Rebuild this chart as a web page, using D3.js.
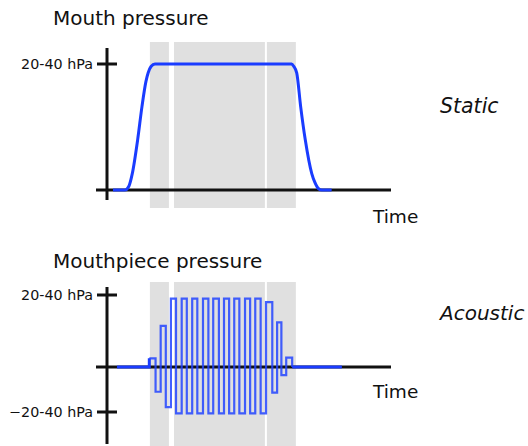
<!DOCTYPE html>
<html>
<head>
<meta charset="utf-8">
<script src="https://cdn.jsdelivr.net/npm/d3@7"></script>
<style>
  html, body { margin: 0; padding: 0; background: #fff; }
  svg { display: block; }
  text { font-family: "Comic Sans MS", "DejaVu Sans", sans-serif; fill: #111; }
</style>
</head>
<body>
<svg id="chart" width="528" height="446"></svg>
<script>
// --- data (time in arbitrary units, pressure relative to the tick value) ---
const bands = [[15.1, 21.8], [23.6, 55.6], [56.3, 66.5]];

// static mouth pressure
const staticT = [2.1, 6.3, 7.7, 8.9, 10.8, 12.3, 13.7, 14.5, 15.5, 16.9, 65.0, 65.8, 66.8, 68.2, 69.8, 72.1, 73.2, 74.5, 75.6, 79.1];
const staticP = [0, 0, 0.03, 0.13, 0.40, 0.66, 0.86, 0.93, 0.98, 1, 1, 0.98, 0.93, 0.66, 0.40, 0.13, 0.06, 0.01, 0, 0];

// acoustic mouthpiece pressure: step start times and level held until next step
const stepT = [3.5, 14.9, 17.1, 18.9, 20.7, 22.5, 24.3, 26.3, 28.1, 30.0, 31.8, 33.8, 35.7, 37.4, 39.4, 41.2, 43.0, 44.8, 46.6, 48.6, 50.4, 52.2, 54.1, 56.0, 58.2, 59.9, 61.4, 63.1, 65.2, 82.7];
const stepP = [0, 0.12, -0.55, 0.57, -0.89, 0.95, -1.03, 0.95, -1.03, 0.95, -1.03, 0.95, -1.03, 0.95, -1.03, 0.95, -1.03, 0.95, -1.03, 0.95, -1.03, 0.95, -1.03, 0.90, -0.57, 0.62, -0.18, 0.13, 0, 0];

const tickLabelTop = ["20-40 hPa"];
const tickLabelBottom = ["20-40 hPa", "\u221220-40 hPa"];

const svg = d3.select("#chart");
const blue = "#1a3cff";

const x = d3.scaleLinear().domain([0, 100]).range([107, 391]);
const yTop = d3.scaleLinear().domain([0, 1]).range([190, 64]);
const yBot = d3.scaleLinear().domain([-1, 0, 1]).range([412, 367, 295]);

function drawBands(y0, y1) {
  svg.append("g").selectAll("rect").data(bands).join("rect")
    .attr("x", d => x(d[0])).attr("width", d => x(d[1]) - x(d[0]))
    .attr("y", y0).attr("height", y1 - y0)
    .attr("fill", "#e0e0e0");
}

function drawAxes(y, yExt, ticks, labels) {
  const g = svg.append("g").attr("stroke", "#111").attr("stroke-width", 3).attr("stroke-linecap", "butt");
  g.append("line").attr("x1", x(0)).attr("x2", x(0)).attr("y1", yExt[0]).attr("y2", yExt[1]);
  g.append("line").attr("x1", x(0) - 11).attr("x2", x(100)).attr("y1", y(0)).attr("y2", y(0));
  g.selectAll(".tk").data(ticks).join("line")
    .attr("x1", x(0) - 10).attr("x2", x(0) + 10)
    .attr("y1", d => y(d)).attr("y2", d => y(d));
  svg.append("g").selectAll("text").data(ticks).join("text")
    .attr("x", 93).attr("y", d => y(d) + 5)
    .attr("text-anchor", "end")
    .style("font-size", "14.3px")
    .text((d, i) => labels[i]);
}

// top panel
drawBands(42, 208);
drawAxes(yTop, [48, 200], [1], tickLabelTop);
const staticData = staticT.map((t, i) => [t, staticP[i]]);
svg.append("path").datum(staticData)
  .attr("fill", "none").attr("stroke", blue).attr("stroke-width", 3)
  .attr("d", d3.line().x(d => x(d[0])).y(d => yTop(d[1])).curve(d3.curveMonotoneX));

// bottom panel
drawBands(282, 446);
drawAxes(yBot, [287, 444], [1, -1], tickLabelBottom);
const stepData = stepT.map((t, i) => [t, stepP[i]]);
const lineStep = d3.line().x(d => x(d[0])).y(d => yBot(d[1])).curve(d3.curveStepAfter);
svg.append("path").datum(stepData.slice(0, 2))
  .attr("fill", "none").attr("stroke", blue).attr("stroke-width", 3)
  .attr("d", lineStep);
svg.append("path").datum(stepData.slice(-2))
  .attr("fill", "none").attr("stroke", blue).attr("stroke-width", 3)
  .attr("d", lineStep);
svg.append("path").datum(stepData.slice(1, -1))
  .attr("fill", "none").attr("stroke", "#2244ff").attr("stroke-width", 2.2)
  .attr("stroke-opacity", 0.85)
  .attr("d", lineStep);

// titles and labels
svg.append("text").attr("x", 53).attr("y", 25).style("font-size", "20px").text("Mouth pressure");
svg.append("text").attr("x", 53).attr("y", 268).style("font-size", "20px").text("Mouthpiece pressure");
svg.append("text").attr("x", 373).attr("y", 223).style("font-size", "18.5px").text("Time");
svg.append("text").attr("x", 373).attr("y", 398).style("font-size", "18.5px").text("Time");
svg.append("text").attr("x", 440).attr("y", 113).style("font-size", "20.5px").style("font-style", "italic").text("Static");
svg.append("text").attr("x", 440).attr("y", 320).style("font-size", "20px").style("font-style", "italic").text("Acoustic");
</script>
</body>
</html>
